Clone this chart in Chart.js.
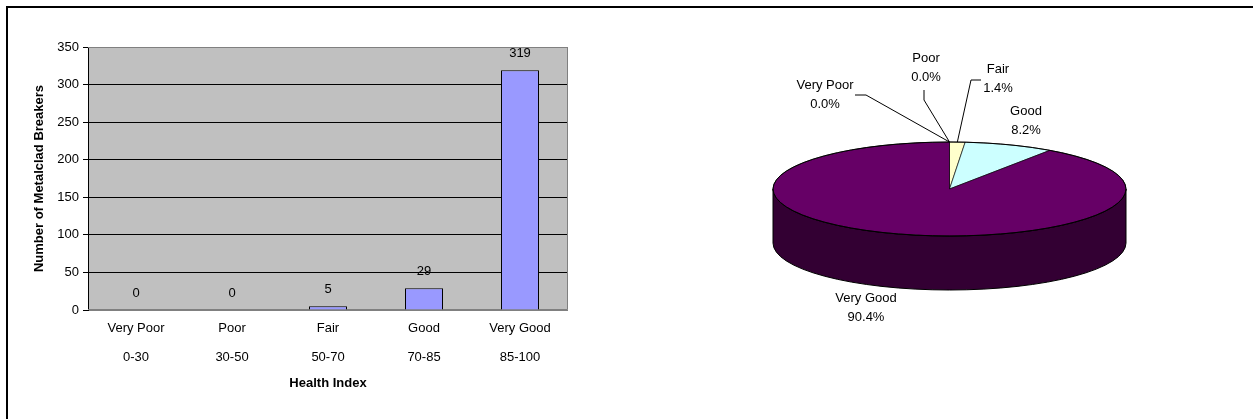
<!DOCTYPE html>
<html lang="en">
<head>
  <meta charset="UTF-8">
  <title>Metalclad Breakers - Health Index</title>
  <script src="https://cdn.jsdelivr.net/npm/chart.js"></script>
  <style>
    html, body {
      margin: 0;
      overflow: hidden;
      background: #fff;
      font-family: Arial, "Liberation Sans", sans-serif;
    }
    .frame {
      position: absolute;
      left: 6px;
      top: 6px;
      width: 1247px;
      height: 411px;
      border-top: 2px solid #000;
      border-left: 2px solid #000;
    }
    #barChart { position: absolute; left: 0; top: 0; }
    #pieChart { position: absolute; left: 640px; top: 0; }
  </style>
</head>
<body>
  <div class="frame"></div>
  <canvas id="barChart" width="640" height="419"></canvas>
  <canvas id="pieChart" width="613" height="419"></canvas>

  <script>
    // data
    const categories = ['Very Poor', 'Poor', 'Fair', 'Good', 'Very Good'];
    const ranges = ['0-30', '30-50', '50-70', '70-85', '85-100'];
    const breakerCounts = [0, 0, 5, 29, 319];
    const yTickMax = 350;
    const yTickStep = 50;

    // excel-ish palette for the pie
    const pieColors = ['#9999FF', '#993366', '#FFFFCC', '#CCFFFF', '#660066'];
    const pieSideColors = ['#4d4d80', '#4d1a33', '#808066', '#668080', '#330033'];

    const FONT = 'Arial, "Liberation Sans", sans-serif';
    Chart.defaults.font.family = FONT;
    Chart.defaults.color = '#000';

    // ---------- bar chart ----------
    const plotBackground = {
      id: 'plotBackground',
      beforeDraw(chart) {
        const { ctx, chartArea: a } = chart;
        ctx.save();
        ctx.fillStyle = '#C0C0C0';
        ctx.fillRect(a.left, a.top, a.right - a.left, a.bottom - a.top);
        ctx.restore();
      },
      beforeDatasetsDraw(chart) {
        const { ctx, chartArea: a } = chart;
        ctx.save();
        ctx.strokeStyle = '#808080';
        ctx.lineWidth = 1;
        ctx.beginPath();
        ctx.moveTo(a.left, a.top + 0.5);
        ctx.lineTo(a.right - 0.5, a.top + 0.5);
        ctx.lineTo(a.right - 0.5, a.bottom - 0.5);
        ctx.lineTo(a.left, a.bottom - 0.5);
        ctx.stroke();
        ctx.restore();
      }
    };

    const barValueLabels = {
      id: 'barValueLabels',
      afterDatasetsDraw(chart) {
        const ctx = chart.ctx;
        ctx.save();
        ctx.font = '13px ' + FONT;
        ctx.fillStyle = '#000';
        ctx.textAlign = 'center';
        ctx.textBaseline = 'middle';
        chart.getDatasetMeta(0).data.forEach((bar, i) => {
          ctx.fillText(String(breakerCounts[i]), bar.x, bar.y - 17);
        });
        ctx.restore();
      }
    };

    new Chart(document.getElementById('barChart'), {
      type: 'bar',
      data: {
        labels: categories.map((c, i) => [c, ranges[i]]),
        datasets: [{
          data: breakerCounts,
          backgroundColor: '#9999FF',
          borderColor: '#000',
          borderWidth: 1,
          categoryPercentage: 1,
          barPercentage: 38 / 96
        }]
      },
      options: {
        responsive: false,
        animation: false,
        layout: { padding: { left: 0, right: 72, top: 47, bottom: 0 } },
        plugins: { legend: { display: false }, tooltip: { enabled: false } },
        scales: {
          x: {
            grid: { display: false },
            border: { display: false },
            ticks: {
              font: { size: 13, lineHeight: '29px' },
              padding: -4,
              maxRotation: 0,
              autoSkip: false
            },
            title: {
              display: true,
              text: 'Health Index',
              font: { size: 13, weight: 'bold' },
              padding: { top: 0, bottom: 28 }
            },
            afterFit(scale) { scale.height = 109; }
          },
          y: {
            min: 0,
            max: yTickMax,
            ticks: { stepSize: yTickStep, font: { size: 13 }, padding: 4 },
            grid: {
              color: ctx => (ctx.tick && (ctx.tick.value === 0 || ctx.tick.value === yTickMax)) ? '#808080' : '#000',
              tickColor: '#000',
              tickLength: 5,
              lineWidth: 1
            },
            border: { display: true, color: '#000' },
            title: {
              display: true,
              text: 'Number of Metalclad Breakers',
              font: { size: 13, weight: 'bold' },
              padding: { top: 32, bottom: 0 }
            },
            afterFit(scale) { scale.width = 88; }
          }
        }
      },
      plugins: [plotBackground, barValueLabels]
    });

    // ---------- 3-D pie ----------
    const tilt = 47 / 176.5;   // vertical squash of the pie top
    const depth = 54;          // height of the pie side
    // label centres and leader elbows, relative to the pie centre
    const pieLabelPos = [[-124.5, -104], [-23.5, -131], [48.5, -120], [76.5, -78], [-83.5, 109]];
    const pieLeaders = [
      [[-94.5, -94], [-83.5, -94]],
      [[-25.5, -99], [-25.5, -89]],
      [[31.5, -109], [21.5, -109]],
      null,
      null
    ];

    const total = breakerCounts.reduce((s, v) => s + v, 0);

    const pie3d = {
      id: 'pie3d',
      beforeDatasetsDraw(chart) {
        const ctx = chart.ctx;
        const arcs = chart.getDatasetMeta(0).data;
        const cx = arcs[0].x, cy = arcs[0].y, r = arcs[0].outerRadius;
        const ry = r * tilt;
        ctx.save();
        // side walls of the front half
        arcs.forEach((arc, i) => {
          const a0 = Math.max(arc.startAngle, 0);
          const a1 = Math.min(arc.endAngle, Math.PI);
          if (a1 <= a0) return;
          ctx.beginPath();
          ctx.ellipse(cx, cy, r, ry, 0, a0, a1);
          ctx.ellipse(cx, cy + depth, r, ry, 0, a1, a0, true);
          ctx.closePath();
          ctx.fillStyle = pieSideColors[i];
          ctx.fill();
          ctx.strokeStyle = '#000';
          ctx.lineWidth = 1;
          ctx.stroke();
        });
        // squash the top
        ctx.translate(cx, cy);
        ctx.scale(1, tilt);
        ctx.translate(-cx, -cy);
      },
      afterDatasetsDraw(chart) {
        const ctx = chart.ctx;
        ctx.restore();
        const arcs = chart.getDatasetMeta(0).data;
        const cx = arcs[0].x, cy = arcs[0].y, r = arcs[0].outerRadius;
        const ry = r * tilt;
        ctx.save();
        ctx.strokeStyle = '#000';
        ctx.lineWidth = 1;
        ctx.beginPath();
        ctx.ellipse(cx, cy, r, ry, 0, 0, Math.PI * 2);
        ctx.stroke();
        ctx.restore();
      },
      afterDraw(chart) {
        const ctx = chart.ctx;
        const arcs = chart.getDatasetMeta(0).data;
        const cx = arcs[0].x, cy = arcs[0].y, r = arcs[0].outerRadius;
        const ry = r * tilt;
        ctx.save();
        ctx.font = '13px ' + FONT;
        ctx.fillStyle = '#000';
        ctx.textAlign = 'center';
        ctx.textBaseline = 'middle';
        ctx.strokeStyle = '#000';
        ctx.lineWidth = 1;
        arcs.forEach((arc, i) => {
          const [dx, dy] = pieLabelPos[i];
          const pct = (breakerCounts[i] / total * 100).toFixed(1) + '%';
          ctx.fillText(categories[i], cx + dx, cy + dy);
          ctx.fillText(pct, cx + dx, cy + dy + 19);
          const lead = pieLeaders[i];
          if (lead) {
            const mid = (arc.startAngle + arc.endAngle) / 2;
            ctx.beginPath();
            ctx.moveTo(cx + lead[0][0], cy + lead[0][1]);
            ctx.lineTo(cx + lead[1][0], cy + lead[1][1]);
            ctx.lineTo(cx + r * Math.cos(mid), cy + ry * Math.sin(mid));
            ctx.stroke();
          }
        });
        ctx.restore();
      }
    };

    new Chart(document.getElementById('pieChart'), {
      type: 'pie',
      data: {
        labels: categories,
        datasets: [{
          data: breakerCounts,
          backgroundColor: pieColors,
          borderColor: '#000',
          borderWidth: 1
        }]
      },
      options: {
        responsive: false,
        animation: false,
        radius: 176.5,
        layout: { padding: { left: 133, right: 127, top: 12.5, bottom: 53.5 } },
        plugins: { legend: { display: false }, tooltip: { enabled: false } }
      },
      plugins: [pie3d]
    });
  </script>
</body>
</html>
